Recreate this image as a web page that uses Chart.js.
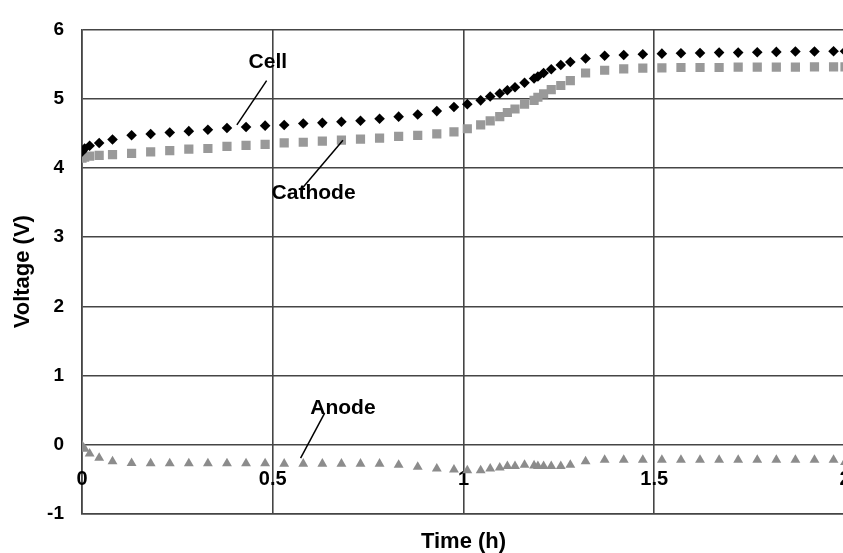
<!DOCTYPE html>
<html>
<head>
<meta charset="utf-8">
<script src="https://cdn.jsdelivr.net/npm/chart.js@4/dist/chart.umd.min.js"></script>
<style>
  html, body { margin: 0; padding: 0; background: #fff; overflow: hidden; }
  #wrap { width: 846px; height: 553px; }
</style>
</head>
<body>
<div id="wrap"><canvas id="c" width="846" height="553"></canvas></div>
<script>
// ---- data ----
const timeH = [0, 0.007, 0.02, 0.045, 0.08, 0.13, 0.18, 0.23, 0.28, 0.33, 0.38, 0.43, 0.48, 0.53, 0.58, 0.63, 0.68, 0.73, 0.78, 0.83, 0.88, 0.93, 0.975, 1.01, 1.045, 1.07, 1.095, 1.115, 1.135, 1.16, 1.185, 1.195, 1.21, 1.23, 1.255, 1.28, 1.32, 1.37, 1.42, 1.47, 1.52, 1.57, 1.62, 1.67, 1.72, 1.77, 1.82, 1.87, 1.92, 1.97, 2.0];
const cellV = [4.235, 4.28, 4.32, 4.36, 4.41, 4.47, 4.49, 4.51, 4.53, 4.55, 4.575, 4.59, 4.61, 4.62, 4.64, 4.65, 4.665, 4.68, 4.71, 4.74, 4.77, 4.82, 4.88, 4.92, 4.975, 5.03, 5.075, 5.12, 5.165, 5.23, 5.29, 5.32, 5.37, 5.425, 5.485, 5.53, 5.58, 5.62, 5.63, 5.64, 5.65, 5.655, 5.66, 5.665, 5.665, 5.67, 5.675, 5.68, 5.68, 5.685, 5.685];
const cathodeV = [4.14, 4.155, 4.17, 4.18, 4.19, 4.21, 4.23, 4.25, 4.27, 4.28, 4.31, 4.325, 4.34, 4.36, 4.37, 4.385, 4.40, 4.415, 4.43, 4.455, 4.47, 4.49, 4.52, 4.565, 4.62, 4.68, 4.74, 4.80, 4.85, 4.92, 4.975, 5.02, 5.07, 5.13, 5.19, 5.26, 5.37, 5.41, 5.43, 5.44, 5.445, 5.45, 5.45, 5.45, 5.455, 5.455, 5.455, 5.455, 5.46, 5.46, 5.46];
const anodeV = [-0.01, -0.06, -0.13, -0.19, -0.24, -0.265, -0.27, -0.27, -0.27, -0.27, -0.27, -0.27, -0.27, -0.275, -0.275, -0.275, -0.275, -0.275, -0.275, -0.29, -0.32, -0.345, -0.36, -0.37, -0.37, -0.345, -0.33, -0.31, -0.31, -0.29, -0.30, -0.31, -0.31, -0.31, -0.31, -0.29, -0.24, -0.22, -0.22, -0.22, -0.22, -0.22, -0.22, -0.22, -0.22, -0.22, -0.22, -0.22, -0.22, -0.22, -0.25];
const xTickValues = [0, 0.5, 1, 1.5, 2];
const xTickLabels = ['0', '0.5', '1', '1.5', '2'];
const yTickValues = [-1, 0, 1, 2, 3, 4, 5, 6];
const seriesNames = ['Cell', 'Cathode', 'Anode'];
const xTitle = 'Time (h)';
const yTitle = 'Voltage (V)';

// callout labels (text position and leader line, in data units)
const callouts = [
  { text: 'Cell',    tx: 0.487, ty: 5.53, align: 'center', x1: 0.484, y1: 5.26, x2: 0.406, y2: 4.62 },
  { text: 'Cathode', tx: 0.497, ty: 3.64, align: 'left',   x1: 0.684, y1: 4.40, x2: 0.579, y2: 3.715 },
  { text: 'Anode',   tx: 0.684, ty: 0.53, align: 'center', x1: 0.636, y1: 0.458, x2: 0.573, y2: -0.194 }
];

const toPts = (ys) => timeH.map((t, i) => ({ x: t, y: ys[i] }));

const FONT = "'Liberation Sans', Arial, Helvetica, sans-serif";
Chart.defaults.font.family = FONT;
Chart.defaults.color = '#000';

const gridColor = '#454545';

// x tick labels sit just below the y = 0 line (axis crossing at zero)
const xLabelPlugin = {
  id: 'xLabelsAtZero',
  beforeDatasetsDraw(chart) {
    const { ctx, scales: { x, y } } = chart;
    ctx.save();
    ctx.fillStyle = '#000';
    ctx.font = "bold 20px " + FONT;
    ctx.textAlign = 'center';
    ctx.textBaseline = 'top';
    const yPix = y.getPixelForValue(0) + 25;
    xTickValues.forEach((v, i) => {
      ctx.fillText(xTickLabels[i], x.getPixelForValue(v), yPix);
    });
    ctx.restore();
  }
};

const calloutPlugin = {
  id: 'callouts',
  afterDatasetsDraw(chart) {
    const { ctx, scales: { x, y } } = chart;
    ctx.save();
    ctx.strokeStyle = '#000';
    ctx.lineWidth = 1.5;
    ctx.fillStyle = '#000';
    ctx.font = "bold 21px " + FONT;
    ctx.textBaseline = 'middle';
    callouts.forEach(c => {
      ctx.beginPath();
      ctx.moveTo(x.getPixelForValue(c.x1), y.getPixelForValue(c.y1));
      ctx.lineTo(x.getPixelForValue(c.x2), y.getPixelForValue(c.y2));
      ctx.stroke();
      ctx.textAlign = c.align;
      ctx.fillText(c.text, x.getPixelForValue(c.tx), y.getPixelForValue(c.ty));
    });
    ctx.restore();
  }
};

new Chart(document.getElementById('c'), {
  type: 'scatter',
  data: {
    datasets: [
      { label: seriesNames[0], data: toPts(cellV), pointStyle: 'rectRot', pointRadius: 5.3,
        backgroundColor: '#000', borderColor: '#000', borderWidth: 0, showLine: false },
      { label: seriesNames[1], data: toPts(cathodeV), pointStyle: 'rect', pointRadius: 6.5,
        backgroundColor: '#999999', borderColor: '#999999', borderWidth: 0, showLine: false },
      { label: seriesNames[2], data: toPts(anodeV), pointStyle: 'triangle', pointRadius: 5.7,
        backgroundColor: '#8c8c8c', borderColor: '#8c8c8c', borderWidth: 0, showLine: false }
    ]
  },
  options: {
    responsive: false,
    animation: false,
    devicePixelRatio: 1,
    layout: { autoPadding: false, padding: { left: 0, top: 19, right: 1, bottom: 0 } },
    plugins: { legend: { display: false }, tooltip: { enabled: false } },
    scales: {
      x: {
        type: 'linear', position: 'bottom', min: 0, max: 2,
        afterBuildTicks: (s) => { s.ticks = xTickValues.map(v => ({ value: v })); },
        afterFit: (s) => { s.height = 39; },
        grid: { color: gridColor, lineWidth: 1.6, drawTicks: false },
        border: { color: gridColor, width: 1.6 },
        ticks: { display: false },
        title: { display: true, text: xTitle, font: { size: 22, weight: 'bold', lineHeight: 1 }, padding: { top: 0, bottom: 0 }, color: '#000' }
      },
      y: {
        type: 'linear', position: 'left', min: -1, max: 6,
        afterBuildTicks: (s) => { s.ticks = yTickValues.map(v => ({ value: v })); },
        afterFit: (s) => { s.width = 82; },
        grid: { color: gridColor, lineWidth: 1.6, drawTicks: false },
        border: { color: gridColor, width: 1.6 },
        ticks: { padding: 18, font: { size: 19, weight: 'bold' }, color: '#000' },
        title: { display: true, text: yTitle, font: { size: 22, weight: 'bold', lineHeight: 1 }, padding: { top: 12, bottom: 0 }, color: '#000' }
      }
    }
  },
  plugins: [xLabelPlugin, calloutPlugin]
});
</script>
</body>
</html>
